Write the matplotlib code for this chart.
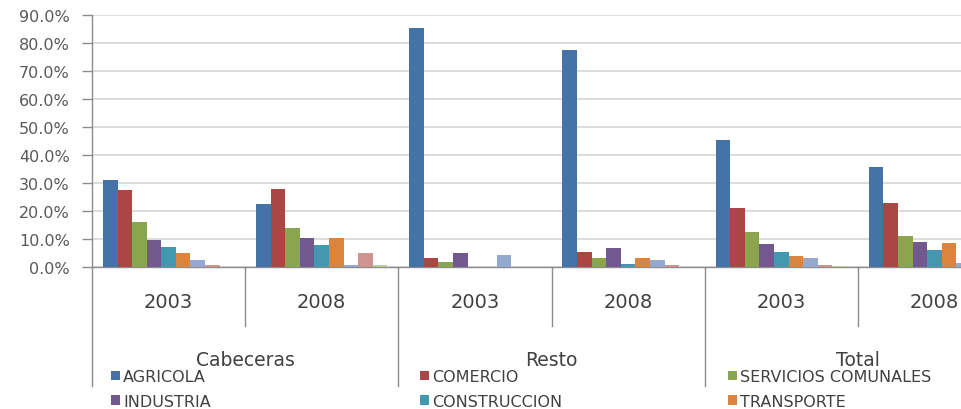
import numpy as np
import matplotlib
matplotlib.use("Agg")
import matplotlib.pyplot as plt
from matplotlib.patches import Patch
from matplotlib.ticker import FuncFormatter

# data (percent)
years = ["2003", "2008", "2003", "2008", "2003", "2008"]
groups = ["Cabeceras", "Resto", "Total"]
series_names = ["AGRICOLA", "COMERCIO", "SERVICIOS COMUNALES",
                "INDUSTRIA", "CONSTRUCCION", "TRANSPORTE",
                "MINERIA", "FINANCIERO", "OTROS"]
agricola = [31.1, 22.6, 85.2, 77.5, 45.5, 35.8]
comercio = [27.4, 27.8, 3.1, 5.2, 21.0, 22.7]
servicios = [16.2, 13.8, 1.7, 3.1, 12.4, 11.2]
industria = [9.6, 10.2, 5.0, 6.7, 8.2, 8.9]
construccion = [7.3, 8.0, 0.0, 1.0, 5.2, 6.1]
transporte = [4.9, 10.2, 0.0, 3.1, 3.9, 8.7]
mineria = [2.4, 0.8, 4.3, 2.4, 3.1, 1.4]
financiero = [0.8, 4.9, 0.0, 0.8, 0.8, 3.3]
otros = [0.0, 0.6, 0.0, 0.0, 0.2, 0.4]

colors = ["#4572A7", "#AA4643", "#89A54E", "#71588F", "#4198AF",
          "#DB843D", "#93A9CF", "#D19392", "#B9CD96"]

all_series = [agricola, comercio, servicios, industria, construccion,
              transporte, mineria, financiero, otros]

plt.rcParams["font.family"] = "DejaVu Sans"

W, H = 961, 410
fig = plt.figure(figsize=(W / 100, H / 100), dpi=100)
# axes runs past the right edge, like the cropped original
left, right, top, bottom = 92, 1011, 16, 268
ax = fig.add_axes([left / W, 1 - bottom / H, (right - left) / W, (bottom - top) / H])

n = len(all_series)
w = 1.0 / (n + 1.5)
x = np.arange(len(years))
for i, (vals, c) in enumerate(zip(all_series, colors)):
    ax.bar(x + (i - (n - 1) / 2) * w, np.array(vals) / 100, width=w, color=c,
           linewidth=0, zorder=3)

ax.set_xlim(-0.5, len(years) - 0.5)
ax.set_ylim(0, 0.9)
ax.set_yticks(np.arange(0, 0.91, 0.1))
ax.yaxis.set_major_formatter(FuncFormatter(lambda v, p: f"{v * 100:.1f}%"))
ax.tick_params(axis="y", length=7, width=1, color="#8C8C8C", pad=9,
               labelsize=11.5, labelcolor="#595959")
ax.set_xticks([])
ax.grid(axis="y", color="#DADADA", linewidth=1.3, zorder=0)
for s in ["top", "right"]:
    ax.spines[s].set_visible(False)
for s in ["left", "bottom"]:
    ax.spines[s].set_color("#8C8C8C")
    ax.spines[s].set_linewidth(1)

# multi-level category axis
trans = ax.get_xaxis_transform()
short_y = -(327 - bottom) / (bottom - top)
long_y = -(387 - bottom) / (bottom - top)
for k in range(len(years) + 1):
    b = k - 0.5
    yl = long_y if k % 2 == 0 else short_y
    ax.plot([b, b], [0, yl], color="#8C8C8C", lw=1, transform=trans, clip_on=False)
for k, yr in enumerate(years):
    ax.text(k, -(302 - bottom) / (bottom - top), yr, transform=trans,
            ha="center", va="center", fontsize=14, color="#404040")
for g, name in enumerate(groups):
    ax.text(2 * g + 0.5, -(361 - bottom) / (bottom - top), name, transform=trans,
            ha="center", va="center", fontsize=13.5, color="#404040")

# legend: three columns, rows continue past the bottom edge
col_x = [111, 420, 728]
for c in range(3):
    handles = [Patch(facecolor=colors[c + 3 * r], edgecolor="none",
                     label=series_names[c + 3 * r]) for r in range(3)]
    fig.legend(handles=handles, loc="upper left",
               bbox_to_anchor=(col_x[c] / W, 1 - 370 / H),
               frameon=False, fontsize=11.5, handlelength=0.55, handleheight=0.55,
               handletextpad=0.2, labelspacing=0.62, borderpad=0, borderaxespad=0,
               labelcolor="#404040")

fig.savefig("out.png", dpi=100)
